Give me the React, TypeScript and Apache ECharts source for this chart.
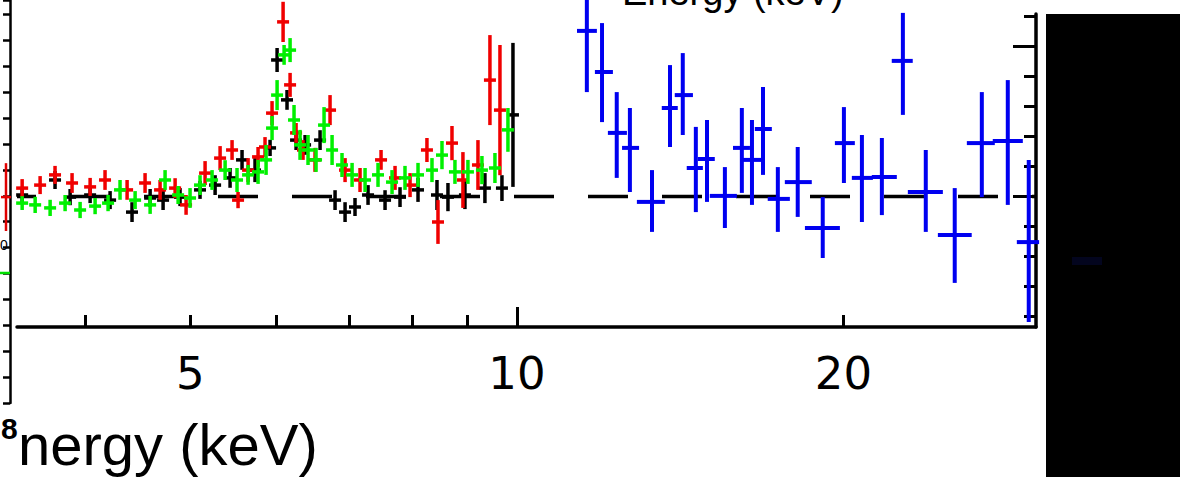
import React, { useEffect, useRef } from "react";
import * as echarts from "echarts";

// ---------- axes ----------
const energyMin = 3.46;
const energyMax = 30.1;
const ratioMin = 0.565;
const ratioMax = 1.6083;
const energyTicks = [4, 5, 6, 7, 8, 9, 10, 20];
const energyLongTicks = [10];
const energyTickLabels = [5, 10, 20];
const ratioTicks = [0.6, 0.7, 0.8, 0.9, 1.1, 1.2, 1.3, 1.4, 1.6];
const ratioLongTicks = [1.0, 1.5];
const modelRatio = 1;

// ---------- black data (energy keV, ratio, error) ----------
const blackEnergy = [3.498, 3.751, 3.873, 4.041, 4.216, 4.417, 4.59, 4.718, 4.891, 5.103, 5.269, 5.439, 5.579, 5.735, 5.921, 6.01, 6.138, 6.257, 6.378, 6.584, 6.797, 6.943, 7.091, 7.29, 7.558, 7.802, 8.106, 8.439, 8.638, 8.955, 9.343, 9.687, 9.916];
const blackRatio = [1.005, 1.055, 0.998, 1.005, 0.988, 0.948, 0.995, 0.988, 0.998, 1.022, 1.038, 1.062, 1.122, 1.088, 1.162, 1.455, 1.322, 1.188, 1.172, 1.188, 0.988, 0.948, 0.965, 1.005, 0.988, 0.998, 1.022, 1.005, 0.998, 1.005, 1.028, 1.028, 1.272];
const blackErr = [0.027, 0.03, 0.027, 0.027, 0.03, 0.033, 0.03, 0.033, 0.03, 0.03, 0.033, 0.033, 0.033, 0.04, 0.027, 0.04, 0.033, 0.033, 0.033, 0.033, 0.033, 0.033, 0.03, 0.033, 0.033, 0.033, 0.04, 0.05, 0.047, 0.047, 0.05, 0.043, 0.24];

// ---------- red data ----------
const redEnergy = [3.498, 3.634, 3.751, 3.889, 4.041, 4.171, 4.371, 4.541, 4.688, 4.84, 4.954, 5.158, 5.325, 5.462, 5.532, 5.651, 5.772, 5.858, 5.946, 6.087, 6.178, 6.257, 6.35, 6.514, 6.725, 6.943, 7.167, 7.494, 7.72, 7.97, 8.261, 8.457, 8.712, 8.917, 9.206, 9.443, 9.646];
const redRatio = [1.028, 1.038, 1.072, 1.045, 1.032, 1.055, 1.022, 1.045, 1.022, 1.028, 0.972, 1.078, 1.128, 1.155, 0.988, 1.088, 1.132, 1.165, 1.278, 1.582, 1.372, 1.212, 1.155, 1.122, 1.288, 1.088, 1.055, 1.122, 1.062, 1.038, 1.155, 0.915, 1.178, 1.055, 1.105, 1.388, 1.288];
const redErr = [0.03, 0.03, 0.03, 0.033, 0.03, 0.033, 0.033, 0.033, 0.033, 0.033, 0.033, 0.04, 0.04, 0.033, 0.027, 0.04, 0.033, 0.033, 0.04, 0.067, 0.04, 0.033, 0.033, 0.04, 0.05, 0.04, 0.04, 0.033, 0.04, 0.04, 0.04, 0.073, 0.057, 0.093, 0.083, 0.15, 0.217];

// ---------- green data ----------
const greenEnergy = [3.498, 3.596, 3.712, 3.832, 3.956, 4.084, 4.198, 4.306, 4.446, 4.59, 4.738, 4.871, 4.996, 5.103, 5.235, 5.382, 5.52, 5.651, 5.772, 5.871, 5.946, 6.01, 6.1, 6.178, 6.23, 6.31, 6.418, 6.528, 6.64, 6.754, 6.898, 7.047, 7.244, 7.446, 7.671, 7.885, 8.106, 8.35, 8.529, 8.767, 9.012, 9.284, 9.544, 9.811];
const greenRatio = [0.978, 0.972, 0.962, 0.978, 0.955, 0.968, 0.978, 1.022, 0.988, 0.972, 1.055, 1.005, 0.995, 1.038, 1.055, 1.088, 1.055, 1.072, 1.082, 1.122, 1.228, 1.338, 1.472, 1.488, 1.255, 1.172, 1.155, 1.122, 1.238, 1.155, 1.105, 1.072, 1.055, 1.072, 1.048, 1.062, 1.072, 1.088, 1.138, 1.082, 1.082, 1.088, 1.095, 1.222];
const greenErr = [0.023, 0.027, 0.027, 0.027, 0.027, 0.027, 0.027, 0.033, 0.03, 0.03, 0.033, 0.03, 0.033, 0.033, 0.033, 0.033, 0.04, 0.033, 0.04, 0.05, 0.04, 0.05, 0.033, 0.04, 0.05, 0.05, 0.05, 0.04, 0.06, 0.05, 0.04, 0.04, 0.04, 0.04, 0.04, 0.04, 0.04, 0.04, 0.047, 0.04, 0.04, 0.047, 0.05, 0.073];

// ---------- blue data (bin centre / low / high energy, ratio, ratio low, ratio high) ----------
const blueEnergy = [11.6, 11.98, 12.36, 12.71, 13.32, 13.84, 14.22, 14.62, 14.97, 15.55, 16.12, 16.47, 16.86, 17.4, 18.15, 19.14, 20.02, 20.8, 21.7, 22.69, 23.82, 25.33, 26.83, 28.35, 29.64];
const blueEnergyLow = [11.36, 11.8, 12.13, 12.5, 12.9, 13.6, 13.98, 14.34, 14.68, 15.06, 15.82, 16.15, 16.57, 17.03, 17.66, 18.43, 19.64, 20.36, 21.24, 22.16, 22.93, 24.44, 25.99, 27.46, 28.9];
const blueEnergyHigh = [11.85, 12.26, 12.63, 12.96, 13.69, 14.07, 14.53, 14.84, 15.22, 15.95, 16.4, 16.82, 17.18, 17.85, 18.7, 19.85, 20.49, 21.29, 22.4, 23.17, 24.7, 26.26, 27.58, 29.27, 30.3];
const blueRatio = [1.552, 1.415, 1.212, 1.162, 0.982, 1.295, 1.338, 1.095, 1.125, 1.002, 1.162, 1.122, 1.225, 0.992, 1.048, 0.895, 1.178, 1.062, 1.065, 1.452, 1.015, 0.872, 1.178, 1.185, 0.848];
const blueRatioLow = [1.348, 1.248, 1.062, 1.015, 0.882, 1.165, 1.205, 0.948, 0.982, 0.895, 1.012, 0.972, 1.072, 0.882, 0.932, 0.795, 1.045, 0.915, 0.938, 1.272, 0.882, 0.712, 0.998, 0.972, 0.582];
const blueRatioHigh = [1.7, 1.578, 1.348, 1.295, 1.088, 1.438, 1.478, 1.232, 1.255, 1.098, 1.295, 1.255, 1.365, 1.098, 1.165, 0.998, 1.298, 1.205, 1.195, 1.612, 1.155, 1.028, 1.348, 1.388, 1.122];

// ---------- neighbouring panel fragment (left edge) ----------
const sideAxisMax = 15.56;
const sideRed = [[6, 7.95, 1.31]];
const sideGreen = [[5, 5.02, 0]];

function crossSym(color: string, lw: number, arm: number) {
  return (params: any, api: any) => {
    const e = api.value(0);
    const r = api.value(1);
    const d = api.value(2);
    const c = api.coord([e, r]);
    const t = api.coord([e, r + d]);
    const b = api.coord([e, r - d]);
    const children: any[] = [
      { type: "line", shape: { x1: c[0] - arm, y1: c[1], x2: c[0] + arm, y2: c[1] }, style: { stroke: color, lineWidth: lw } },
    ];
    if (d > 0) {
      children.push({ type: "line", shape: { x1: c[0], y1: t[1], x2: c[0], y2: b[1] }, style: { stroke: color, lineWidth: lw } });
    }
    return { type: "group", children };
  };
}

function crossAsym(color: string, lw: number) {
  return (params: any, api: any) => {
    const e = api.value(0);
    const r = api.value(1);
    const rl = api.value(2);
    const rh = api.value(3);
    const el = api.value(4);
    const eh = api.value(5);
    const c = api.coord([e, r]);
    const t = api.coord([e, rh]);
    const b = api.coord([e, rl]);
    const l = api.coord([el, r]);
    const h = api.coord([eh, r]);
    return {
      type: "group",
      children: [
        { type: "line", shape: { x1: c[0], y1: t[1], x2: c[0], y2: b[1] }, style: { stroke: color, lineWidth: lw } },
        { type: "line", shape: { x1: l[0], y1: c[1], x2: h[0], y2: c[1] }, style: { stroke: color, lineWidth: lw } },
      ],
    };
  };
}

export default function App() {
  const ref = useRef<HTMLDivElement>(null);
  useEffect(() => {
    if (!ref.current) return;
    const chart = echarts.init(ref.current, undefined, { renderer: "svg" });
    const font = "Liberation Sans";
    const blackData = blackEnergy.map((e, i) => [e, blackRatio[i], blackErr[i]]);
    const redData = redEnergy.map((e, i) => [e, redRatio[i], redErr[i]]);
    const greenData = greenEnergy.map((e, i) => [e, greenRatio[i], greenErr[i]]);
    const blueData = blueEnergy.map((e, i) => [e, blueRatio[i], blueRatioLow[i], blueRatioHigh[i], blueEnergyLow[i], blueEnergyHigh[i]]);

    const logAxisBase = {
      gridIndex: 0,
      type: "log",
      logBase: 10,
      min: energyMin,
      max: energyMax,
      position: "bottom",
      splitLine: { show: false },
      minorTick: { show: false },
      minorSplitLine: { show: false },
    };
    const ratioAxisBase = {
      gridIndex: 0,
      type: "value",
      min: ratioMin,
      max: ratioMax,
      position: "right",
      splitLine: { show: false },
      axisLabel: { show: false },
    };

    chart.setOption({
      animation: false,
      backgroundColor: "#ffffff",
      grid: [
        { left: 17, right: 144, top: 14, bottom: 150 },
        { left: 0, width: 10, top: 0, height: 403 },
      ],
      xAxis: [
        {
          ...logAxisBase,
          axisLine: { show: true, onZero: false, lineStyle: { color: "#000", width: 3.5 } },
          axisTick: { show: true, inside: true, length: 12, customValues: energyTicks, lineStyle: { color: "#000", width: 3 } },
          axisLabel: {
            show: true,
            customValues: energyTickLabels,
            fontSize: 45,
            fontFamily: "DejaVu Sans",
            color: "#000",
            margin: 24,
            formatter: (v: number) => String(Math.round(v)),
          },
        },
        {
          ...logAxisBase,
          axisLine: { show: false },
          axisTick: { show: true, inside: true, length: 20, customValues: energyLongTicks, lineStyle: { color: "#000", width: 3 } },
          axisLabel: { show: false },
        },
        { gridIndex: 1, type: "value", min: 0, max: 10, show: false },
      ],
      yAxis: [
        {
          ...ratioAxisBase,
          axisLine: { show: true, onZero: false, lineStyle: { color: "#000", width: 3.5 } },
          axisTick: { show: true, inside: true, length: 12, customValues: ratioTicks, lineStyle: { color: "#000", width: 3 } },
        },
        {
          ...ratioAxisBase,
          axisLine: { show: false },
          axisTick: { show: true, inside: true, length: 23, customValues: ratioLongTicks, lineStyle: { color: "#000", width: 3 } },
        },
        {
          gridIndex: 1,
          type: "value",
          min: 0,
          max: sideAxisMax,
          interval: 1,
          position: "right",
          axisLine: { show: true, onZero: false, lineStyle: { color: "#000", width: 2.5 } },
          axisTick: { show: true, inside: true, length: 7, lineStyle: { color: "#000", width: 2.5 } },
          axisLabel: { show: false },
          splitLine: { show: false },
        },
      ],
      series: [
        {
          type: "line",
          xAxisIndex: 0,
          yAxisIndex: 0,
          data: [[energyMin, modelRatio], [energyMax, modelRatio]],
          symbol: "none",
          lineStyle: { color: "#000", width: 3.5, type: [40, 34], dashOffset: 21 },
          z: 1,
          silent: true,
        },
        { type: "custom", xAxisIndex: 0, yAxisIndex: 0, data: blackData, encode: { x: 0, y: 1 }, renderItem: crossSym("#000000", 3.5, 6), clip: false, z: 2 },
        { type: "custom", xAxisIndex: 0, yAxisIndex: 0, data: redData, encode: { x: 0, y: 1 }, renderItem: crossSym("#f00000", 3.5, 6), clip: false, z: 3 },
        { type: "custom", xAxisIndex: 0, yAxisIndex: 0, data: greenData, encode: { x: 0, y: 1 }, renderItem: crossSym("#00f000", 3.5, 6), clip: false, z: 4 },
        { type: "custom", xAxisIndex: 0, yAxisIndex: 0, data: blueData, encode: { x: 0, y: 1 }, renderItem: crossAsym("#0000f0", 4), clip: false, z: 5 },
        { type: "custom", xAxisIndex: 2, yAxisIndex: 2, data: sideRed, encode: { x: 0, y: 1 }, renderItem: crossSym("#e00000", 2.5, 5), clip: false, z: 5 },
        { type: "custom", xAxisIndex: 2, yAxisIndex: 2, data: sideGreen, encode: { x: 0, y: 1 }, renderItem: crossSym("#00e000", 2.5, 5), clip: false, z: 5 },
      ],
      graphic: [
        { type: "rect", shape: { x: 1046, y: 14, width: 134, height: 463 }, style: { fill: "#000000" }, z: 10 },
        { type: "rect", shape: { x: 1072, y: 257, width: 30, height: 8 }, style: { fill: "#03051e" }, z: 11 },
        {
          type: "text",
          x: 18,
          y: 444,
          style: { text: "nergy (keV)", fontSize: 58, fontFamily: font, fill: "#000", verticalAlign: "middle", align: "left" },
          z: 10,
        },
        {
          type: "text",
          x: 622,
          y: -8,
          style: { text: "Energy (keV)", fontSize: 38, fontFamily: font, fill: "#000", verticalAlign: "middle", align: "left" },
          z: 10,
        },
        {
          type: "text",
          x: 1,
          y: 428,
          style: { text: "8", fontSize: 30, fontWeight: "bold", fontFamily: font, fill: "#000", verticalAlign: "middle", align: "left" },
          z: 10,
        },
        {
          type: "text",
          x: 0,
          y: 245,
          style: { text: "0", fontSize: 14, fontFamily: font, fill: "#000", verticalAlign: "middle", align: "left" },
          z: 10,
        },
      ],
    });
    return () => chart.dispose();
  }, []);
  return (
    <div
      ref={ref}
      style={{ position: "absolute", left: 0, top: 0, width: 1180, height: 477, background: "#fff" }}
    />
  );
}
